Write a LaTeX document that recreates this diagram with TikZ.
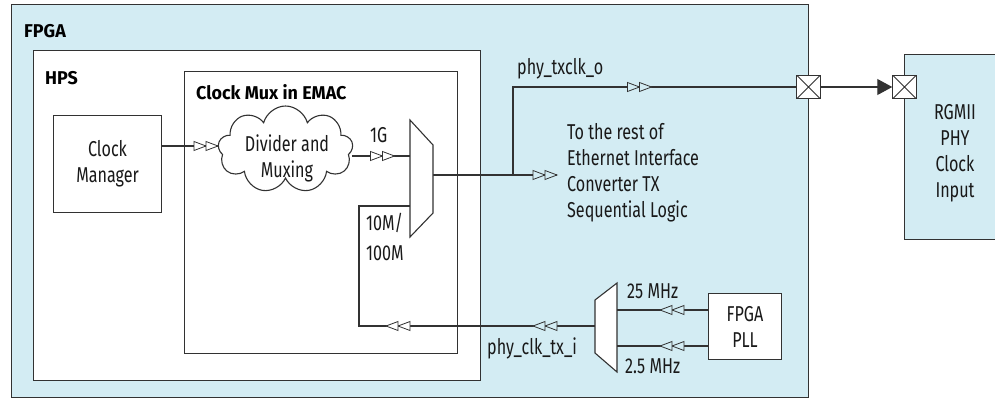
\documentclass[tikz,border=0pt]{standalone}
\usepackage{fontspec}
\setmainfont{Fira Sans}[FakeStretch=0.75]
\newfontfamily\boldf{Fira Sans}[FakeStretch=0.97]
\usetikzlibrary{shapes.symbols,arrows.meta,decorations.markings}
\definecolor{fpgablue}{RGB}{211,236,243}
\definecolor{ln}{RGB}{50,50,50}
\newcommand\dtri[1]{%
  \filldraw[draw=ln, fill=#1, line width=0.8pt, line join=miter] (-12,-4.5) -- (0,0) -- (-12,4.5) -- cycle;
  \filldraw[draw=ln, fill=#1, line width=0.8pt, line join=miter] (0,-4.5) -- (12,0) -- (0,4.5) -- cycle;}
\tikzset{
  box/.style={draw=ln, line width=1.1pt, inner sep=0pt},
  wire/.style={draw=ln, line width=1.1pt},
  lbl/.style={inner sep=0pt, text=black!90, font=\fontsize{21.5}{26}\selectfont},
  blbl/.style={inner sep=0pt, anchor=base west, font=\boldf\bfseries\fontsize{18.5}{20}\selectfont},
  dmark/.style 2 args={postaction={decorate, decoration={markings, mark=at position #1pt with {\dtri{#2}}}}},
  pad/.style={draw=ln, fill=white, line width=1pt, minimum size=23.5pt, inner sep=0pt,
    path picture={\draw[ln, line width=0.8pt] (path picture bounding box.north west) -- (path picture bounding box.south east)
      (path picture bounding box.south west) -- (path picture bounding box.north east);}},
}
\begin{document}
\begin{tikzpicture}[x=1pt,y=-1pt]
\useasboundingbox (0,0) rectangle (995,400);
% containers
\node[box, fill=fpgablue, minimum width=797pt, minimum height=393pt, anchor=north west] (fpga) at (11,4) {};
\node[box, fill=white, minimum width=447pt, minimum height=330pt, anchor=north west] (hps) at (33,50) {};
\node[box, fill=white, minimum width=273pt, minimum height=282pt, anchor=north west] (cmux) at (184,71) {};
\node[box, fill=fpgablue, minimum width=102pt, minimum height=185pt, anchor=north west] (phy) at (904,54) {};
\node[lbl, align=center, anchor=base] (phytext) at (955,197) {RGMII\\PHY\\Clock\\Input};
% coordinates
\coordinate (cmo) at (161,146);
\coordinate (cli) at (232,146);
\coordinate (clo) at (352,156);
\coordinate (m1a) at (410,156);
\coordinate (m1b) at (410,206);
\coordinate (m1o) at (433,175);
\coordinate (txend) at (557,175);
\coordinate (junc) at (513,175);
\coordinate (m2o) at (595,326);
\coordinate (m2a) at (617,310);
\coordinate (m2b) at (617,346);
\coordinate (c1) at (359,326);
\coordinate (c2) at (359,206);
% pads
\node[pad] (pad1) at (808.5,87) {};
\node[pad] (pad2) at (904.5,87) {};
% wires
\draw[wire, dmark={45}{white}] (cmo) -- (cli);
\draw[wire, dmark={30.5}{white}] (clo) -- (m1a);
\draw[wire, dmark={112}{fpgablue}] (m1o) -- (txend);
\draw[wire, dmark={214.5}{fpgablue}] (junc) |- (pad1.west);
\draw[wire, -{Triangle[length=15pt,width=16pt]}] (pad1.east) -- (pad2.west);
\draw[wire, dmark={50}{fpgablue}, dmark={197}{white}] (m2o) -- (c1) -- (c2) -- (m1b);
% nodes on top
\node[box, fill=white, minimum width=108pt, minimum height=97pt, anchor=north west, lbl, align=center] (cm) at (53,115) {Clock\\Manager};
\node[cloud, draw=ln, line width=1.1pt, fill=white, cloud puffs=9, aspect=1.55, minimum width=135pt, minimum height=87pt, inner sep=0pt] (cloud) at (285.5,149.5) {};
\node[lbl, align=center, anchor=base] (cloudtext) at (287,177) {Divider and\\Muxing};
\draw[box, fill=white] (410,120) -- (433,145) -- (433,213) -- (410,237) -- cycle;
\draw[box, fill=white] (595,300) -- (617,283) -- (617,372) -- (595,353) -- cycle;
\node[box, fill=white, minimum width=73pt, minimum height=66pt, anchor=north west, lbl, align=center] (pll) at (708,293) {FPGA\\PLL};
\draw[wire, dmark={36}{fpgablue}] (pll.west |- m2a) -- (m2a);
\draw[wire, dmark={36}{fpgablue}] (pll.west |- m2b) -- (m2b);
% labels
\node[blbl] (lfpga) at (24,37) {FPGA};
\node[blbl] (lhps) at (45,84) {HPS};
\node[blbl] (lcmux) at (196,99) {Clock Mux in EMAC};
\node[lbl, anchor=base west] (l1g) at (370,142) {1G};
\node[lbl, anchor=base west] (ltx) at (517,74) {phy\_txclk\_o};
\node[lbl, anchor=base west, align=left] (lrest) at (567,217) {To the rest of\\Ethernet Interface\\Converter TX\\Sequential Logic};
\node[lbl, anchor=base west, align=left] (l10) at (366,230) {10M/};
\node[lbl, anchor=base west, align=left] (l100) at (366,260) {100M};
\node[lbl, anchor=base west] (l25) at (627,298) {25 MHz};
\node[lbl, anchor=base west] (l2p5) at (625,373) {2.5 MHz};
\node[lbl, anchor=base west] (lrx) at (487,354) {phy\_clk\_tx\_i};
\end{tikzpicture}
\end{document}
